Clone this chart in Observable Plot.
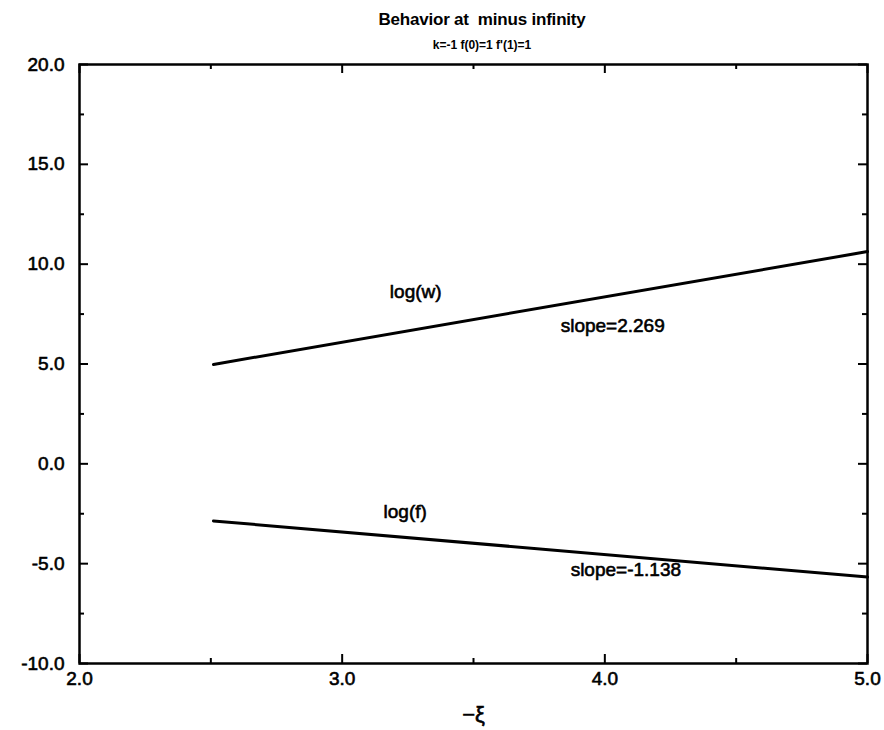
<!DOCTYPE html>
<html>
<head>
<meta charset="utf-8">
<script src="https://cdn.jsdelivr.net/npm/d3@7"></script>
<script src="https://cdn.jsdelivr.net/npm/@observablehq/plot@0.6"></script>
<style>
  html, body { margin: 0; padding: 0; background: #fff; }
  #wrap { position: relative; width: 884px; height: 730px; font-family: "Liberation Sans", Arial, Helvetica, sans-serif; color: #000; }
  #title { position: absolute; left: 0; width: 964px; top: 10px; text-align: center; font-weight: bold; font-size: 17px; line-height: 20px; letter-spacing: -0.2px; }
  #subtitle { position: absolute; left: 0; width: 964px; top: 38px; text-align: center; font-weight: bold; font-size: 12px; line-height: 14px; }
  #chart { position: absolute; left: 0; top: 0; }
  #chart svg text { stroke: #000; stroke-width: 0.6px; }
</style>
</head>
<body>
<div id="wrap">
  <div id="chart"></div>
  <div id="title">Behavior at&nbsp; minus infinity</div>
  <div id="subtitle">k=-1 f(0)=1 f'(1)=1</div>
</div>
<script>
// ---- data ----
const xTicks = [2, 3, 4, 5];
const xMinorTicks = [2.5, 3.5, 4.5];
const yTicks = [-10, -5, 0, 5, 10, 15, 20];
const yMinorTicks = [-7.5, -2.5, 2.5, 7.5, 12.5, 17.5];

const logWXi = [2.51, 5.0];
const logWVal = [4.98, 10.63];
const logFXi = [2.51, 5.0];
const logFVal = [-2.86, -5.67];

const labelText = ["log(w)", "slope=2.269", "log(f)", "slope=-1.138"];
const labelXi = [3.28, 4.03, 3.24, 4.08];
const labelVal = [8.63, 6.92, -2.41, -5.32];

const xAxisLabel = "\u2212\u03BE";

// ---- build tables ----
const logW = logWXi.map((x, i) => ({x, y: logWVal[i]}));
const logF = logFXi.map((x, i) => ({x, y: logFVal[i]}));
const labels = labelText.map((t, i) => ({t, x: labelXi[i], y: labelVal[i]}));

const W = 884, H = 730;
const mTop = 64, mBottom = 67, mLeft = 79, mRight = 17;
const plotW = W - mLeft - mRight, plotH = H - mTop - mBottom;
const fmt = d => d.toFixed(1);
const major = 9, minor = 5;

const chart = Plot.plot({
  width: W,
  height: H,
  marginTop: mTop,
  marginBottom: mBottom,
  marginLeft: mLeft,
  marginRight: mRight,
  style: {fontFamily: "'Liberation Sans', Arial, Helvetica, sans-serif", fontSize: "20px", color: "#000", background: "transparent"},
  x: {domain: [2, 5]},
  y: {domain: [-10, 20]},
  marks: [
    Plot.frame({stroke: "#000", strokeWidth: 2.5}),
    // tick marks pointing inward on all four sides
    Plot.tickX(xTicks, {x: d => d, stroke: "#000", strokeWidth: 2, insetTop: plotH - major}),
    Plot.tickX(xMinorTicks, {x: d => d, stroke: "#000", strokeWidth: 2, insetTop: plotH - minor}),
    Plot.tickX(xTicks, {x: d => d, stroke: "#000", strokeWidth: 2, insetBottom: plotH - major}),
    Plot.tickX(xMinorTicks, {x: d => d, stroke: "#000", strokeWidth: 2, insetBottom: plotH - minor}),
    Plot.tickY(yTicks, {y: d => d, stroke: "#000", strokeWidth: 2, insetRight: plotW - major}),
    Plot.tickY(yMinorTicks, {y: d => d, stroke: "#000", strokeWidth: 2, insetRight: plotW - minor}),
    Plot.tickY(yTicks, {y: d => d, stroke: "#000", strokeWidth: 2, insetLeft: plotW - major}),
    Plot.tickY(yMinorTicks, {y: d => d, stroke: "#000", strokeWidth: 2, insetLeft: plotW - minor}),
    Plot.axisX(xTicks, {anchor: "bottom", tickSize: 0, tickPadding: 8, tickFormat: fmt, label: null, fill: "#000", fontSize: 19}),
    Plot.axisY(yTicks, {anchor: "left", tickSize: 0, tickPadding: 15, tickFormat: fmt, label: null, fill: "#000", fontSize: 19}),
    Plot.line(logW, {x: "x", y: "y", stroke: "#000", strokeWidth: 3}),
    Plot.line(logF, {x: "x", y: "y", stroke: "#000", strokeWidth: 3}),
    Plot.text(labels, {x: "x", y: "y", text: "t", fill: "#000", fontSize: 19}),
    Plot.text([xAxisLabel], {text: d => d, frameAnchor: "bottom", dy: 58, fill: "#000", fontSize: 22})
  ]
});
document.getElementById("chart").appendChild(chart);
</script>
</body>
</html>
